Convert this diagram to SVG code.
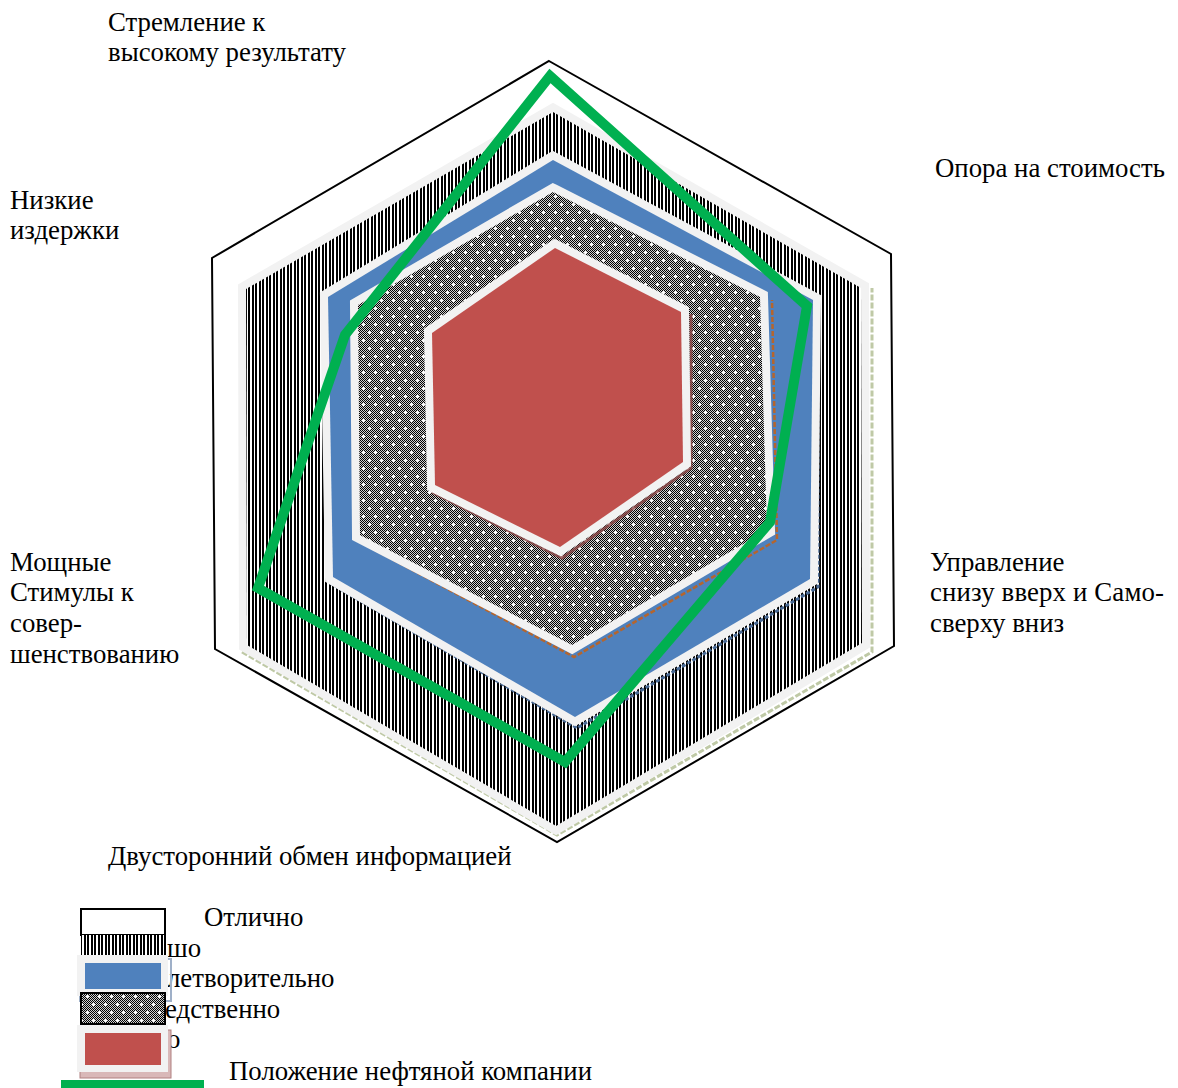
<svg xmlns="http://www.w3.org/2000/svg" width="1178" height="1088" viewBox="0 0 1178 1088">
<style>
.lbl{font-family:"Liberation Serif","Times New Roman",serif;font-size:26.8px;fill:#000}
.halo{fill:none;stroke:#f2f2f2;stroke-width:16;stroke-linejoin:miter}
.green{fill:none;stroke:#00b050;stroke-width:10;stroke-linejoin:miter}
</style>
<defs>
<pattern id="vstripe" width="7" height="7" patternUnits="userSpaceOnUse">
<rect width="7" height="7" fill="#fff"/>
<rect x="0" y="0" width="2" height="7" fill="#000"/>
<rect x="3" y="0" width="2" height="7" fill="#000"/>
</pattern>
<pattern id="checker" width="2" height="2" patternUnits="userSpaceOnUse">
<rect width="2" height="2" fill="#d0d0d0"/>
<rect x="0" y="0" width="1" height="1" fill="#000"/>
<rect x="1" y="1" width="1" height="1" fill="#000"/>
</pattern>
<pattern id="dots" width="12" height="16" patternUnits="userSpaceOnUse">
<rect width="12" height="16" fill="url(#checker)"/>
<rect x="2" y="4" width="3" height="1" fill="#fff"/>
<rect x="3" y="3" width="1" height="3" fill="#fff"/>
<rect x="8" y="12" width="3" height="1" fill="#fff"/>
<rect x="9" y="11" width="1" height="3" fill="#fff"/>
</pattern>
</defs>

<g id="frame">
<polygon points="549,61 891,254 894,646 557,842 215,649 212,258" fill="#fff" stroke="#000" stroke-width="2"/>
</g>

<g id="series-horosho">
<polyline points="242,652 557,835 872,652 872,288" fill="none" stroke="#bfc9a6" stroke-width="3" stroke-dasharray="6,2"/>
<polygon class="halo" points="553,112 861,288 862,643 556,826 247,645 246,289"/>
<polygon points="553,112 861,288 862,643 556,826 247,645 246,289" fill="url(#vstripe)"/>
</g>

<g id="series-udovl">
<polyline points="330,583 577,728 818,587 818,300" fill="none" stroke="#4a6a94" stroke-width="3" stroke-dasharray="4,2"/>
<polygon class="halo" points="553,160 813,300 810,579 575,717 333,577 328,297"/>
<polygon points="553,160 813,300 810,579 575,717 333,577 328,297" fill="#4f81bd"/>
</g>

<g id="series-posr">
<polyline points="362,543 574,657 777,540 772,300" fill="none" stroke="#b5652d" stroke-width="2.5" stroke-dasharray="5,2"/>
<polygon class="halo" points="553,192 760,297 767,530 572,645 360,535 358,305"/>
<polygon points="553,192 760,297 767,530 572,645 360,535 358,305" fill="url(#dots)"/>
</g>

<g id="series-ploho">
<polyline points="432,492 562,558 691,468 691,314" fill="none" stroke="#8c4646" stroke-width="3" stroke-opacity="0.8"/>
<polygon class="halo" points="555,248 681,312 683,462 560,547 435,485 432,333"/>
<polygon points="555,248 681,312 683,462 560,547 435,485 432,333" fill="#c0504d"/>
</g>

<g id="series-company">
<polygon class="green" points="550,76 807,306 770,522 565,762 258,588 345,335"/>
</g>

<g id="axis-labels">
<text class="lbl" x="108" y="31">Стремление к</text>
<text class="lbl" x="108" y="61">высокому результату</text>
<text class="lbl" x="935" y="177">Опора на стоимость</text>
<text class="lbl" x="10" y="209">Низкие</text>
<text class="lbl" x="10" y="239">издержки</text>
<text class="lbl" x="930" y="571">Управление</text>
<text class="lbl" x="930" y="601" textLength="234" lengthAdjust="spacing">снизу вверх и Само-</text>
<text class="lbl" x="930" y="632">сверху вниз</text>
<text class="lbl" x="10" y="571">Мощные</text>
<text class="lbl" x="10" y="601">Стимулы к</text>
<text class="lbl" x="10" y="632">совер-</text>
<text class="lbl" x="10" y="663">шенствованию</text>
<text class="lbl" x="108" y="865">Двусторонний обмен информацией</text>
</g>

<g id="legend">
<text class="lbl" x="167" y="957">шо</text>
<text class="lbl" x="167" y="987">летворительно</text>
<text class="lbl" x="165" y="1018">едственно</text>
<text class="lbl" x="167" y="1048">о</text>
<rect x="81" y="909" width="84" height="26" fill="#fff" stroke="#000" stroke-width="2"/>
<text class="lbl" x="204" y="926">Отлично</text>
<rect x="81" y="935" width="86" height="21" fill="url(#vstripe)"/>
<rect x="80" y="959" width="91" height="42" fill="none" stroke="#9fb0c8" stroke-width="2"/>
<rect x="77" y="955" width="91" height="41" fill="#f2f2f2"/>
<rect x="85" y="963" width="76" height="26" fill="#4f81bd"/>
<rect x="81" y="993" width="84" height="31" fill="url(#dots)" stroke="#000" stroke-width="2"/>
<rect x="80" y="1030" width="91" height="48" fill="#d9b8b8" stroke="#b08080" stroke-width="1"/>
<rect x="77" y="1025" width="91" height="47" fill="#f2f2f2"/>
<rect x="85" y="1033" width="76" height="32" fill="#c0504d"/>
<rect x="61" y="1080" width="143" height="10" fill="#00b050"/>
<text class="lbl" x="229" y="1080">Положение нефтяной компании</text>
</g>
</svg>
